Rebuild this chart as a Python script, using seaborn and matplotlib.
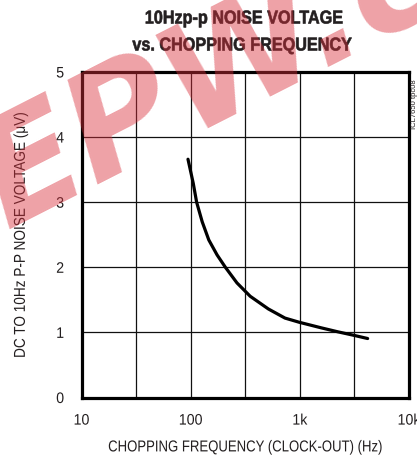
import matplotlib
matplotlib.use("Agg")
import matplotlib.pyplot as plt
import seaborn as sns
import numpy as np
import pandas as pd
from matplotlib.ticker import FixedLocator, NullLocator
from matplotlib.patheffects import AbstractPathEffect
from matplotlib.transforms import Affine2D

# data
freq_hz = [94.5, 105.6, 113.4, 127.5, 146.6, 174.6, 208, 265.6, 351, 515, 731, 986, 1571, 2229, 3090, 4178]
noise_uv = [3.66, 3.29, 3.0, 2.70, 2.42, 2.19, 2.0, 1.76, 1.555, 1.36, 1.22, 1.156, 1.07, 1.009, 0.957, 0.906]
x_tick_vals = [10, 100, 1000, 10000]
x_tick_labels = ["10", "100", "1k", "10k"]
x_grid_vals = [10, 31.62, 100, 316.2, 1000, 3162, 10000]
y_tick_vals = [0, 1, 2, 3, 4, 5]


class Squeeze(AbstractPathEffect):
    """Horizontally condense text glyphs (no condensed font installed)."""
    def __init__(self, sx=0.85, frac=0.5, stroke=0.0):
        super().__init__()
        self.sx = sx
        self.frac = frac
        self.stroke = stroke

    def draw_path(self, renderer, gc, tpath, affine, rgbFace=None):
        ext = tpath.get_extents()
        w = ext.x1
        tr = Affine2D().scale(self.sx, 1).translate(w * (1 - self.sx) * self.frac, 0) + affine
        if self.stroke > 0:
            gc0 = renderer.new_gc()
            gc0.copy_properties(gc)
            gc0.set_linewidth(self.stroke)
            gc0.set_foreground(rgbFace)
            renderer.draw_path(gc0, tpath, tr, rgbFace)
            gc0.restore()
        else:
            renderer.draw_path(gc, tpath, tr, rgbFace)


sns.set_style("white")
plt.rcParams["font.family"] = ["Liberation Sans", "DejaVu Sans"]
TXT = "#231f20"

fig = plt.figure(figsize=(4.17, 4.57), dpi=100)
L, R, T, B = 81.5, 409, 72, 397.5
ax = fig.add_axes([L/417, 1-B/457, (R-L)/417, (B-T)/457])

df = pd.DataFrame({"f": freq_hz, "v": noise_uv})
sns.lineplot(data=df, x="f", y="v", ax=ax, color="black", linewidth=2.3, zorder=5)

ax.set_xscale("log")
ax.set_xlim(10, 10000)
ax.set_ylim(0, 5)
ax.xaxis.set_major_locator(FixedLocator(x_tick_vals))
ax.set_xticklabels(x_tick_labels)
ax.xaxis.set_minor_locator(NullLocator())
ax.set_yticks(y_tick_vals)
for gx in x_grid_vals:
    ax.axvline(gx, color="#111111", lw=0.9, zorder=2)
for gy in y_tick_vals:
    ax.axhline(gy, color="#111111", lw=0.9, zorder=2)
for s in ax.spines.values():
    s.set_linewidth(2.3)
    s.set_color("black")
    s.set_zorder(6)
ax.tick_params(axis="both", length=0, labelsize=11, colors=TXT)
ax.tick_params(axis="x", pad=11.6)
ax.tick_params(axis="y", pad=12.5)
for lab in ax.get_xticklabels():
    lab.set_path_effects([Squeeze(0.93, 0.5)])
for lab in ax.get_yticklabels():
    lab.set_path_effects([Squeeze(0.93, 1.0)])

ax.set_xlabel("CHOPPING FREQUENCY (CLOCK-OUT) (Hz)", fontsize=11.4, color=TXT, labelpad=8.5)
ax.set_ylabel("DC TO 10Hz P-P NOISE VOLTAGE (\u03bcV)", fontsize=11.4, color=TXT, labelpad=20)
ax.xaxis.label.set_path_effects([Squeeze(0.83, 0.5)])
ax.yaxis.label.set_path_effects([Squeeze(0.86, 0.5)])

t1 = fig.text(244/417, 1-19/457, "10Hzp-p NOISE VOLTAGE", ha="center", va="center",
              fontsize=13.4, fontweight="bold", color=TXT)
t2 = fig.text(242/417, 1-46/457, "vs. CHOPPING FREQUENCY", ha="center", va="center",
              fontsize=13.4, fontweight="bold", color=TXT)
t1.set_path_effects([Squeeze(0.87, 0.5, stroke=0.45)])
t2.set_path_effects([Squeeze(0.87, 0.5, stroke=0.45)])
fig.text(414/417, 1-104/457, "ICL7650 tpc08", rotation=90, ha="center", va="center",
         fontsize=5.5, color=TXT)

# watermark
fig.text(255/417, 1-58/457, "EPW.co", rotation=27, ha="center", va="center",
         fontsize=105, fontweight="bold", style="italic", color="#d9303c", alpha=0.45,
         family=["DejaVu Sans"], zorder=10)

fig.savefig("out.png", dpi=100)
